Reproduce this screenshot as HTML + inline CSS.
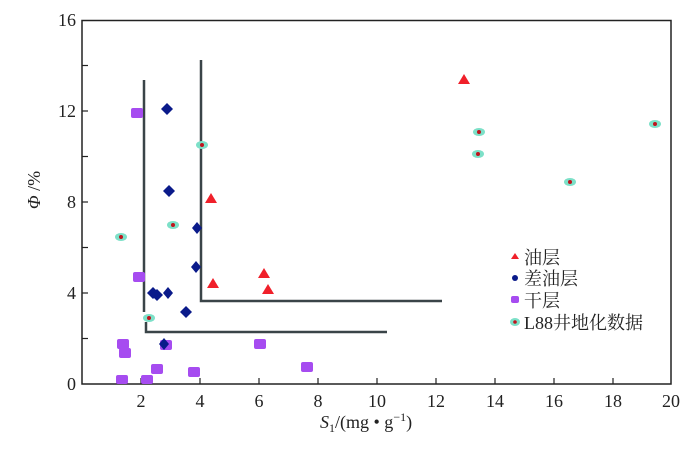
<!DOCTYPE html>
<html><head><meta charset="utf-8"><style>
body{margin:0;background:#fff}
text{font-family:"Liberation Serif","Noto Serif CJK SC",serif;fill:#222}
</style></head><body>
<svg width="700" height="452" viewBox="0 0 700 452" xmlns="http://www.w3.org/2000/svg">
<rect x="82" y="20.5" width="589" height="363.5" fill="none" stroke="#222" stroke-width="1.5"/>
<g stroke="#222" stroke-width="1.2">
<line x1="141" y1="384" x2="141" y2="378"/><line x1="200" y1="384" x2="200" y2="378"/>
<line x1="259" y1="384" x2="259" y2="378"/><line x1="318" y1="384" x2="318" y2="378"/>
<line x1="377" y1="384" x2="377" y2="378"/><line x1="436" y1="384" x2="436" y2="378"/>
<line x1="495" y1="384" x2="495" y2="378"/><line x1="554" y1="384" x2="554" y2="378"/>
<line x1="613" y1="384" x2="613" y2="378"/>
<line x1="82" y1="338.5" x2="88" y2="338.5"/><line x1="82" y1="293" x2="88" y2="293"/>
<line x1="82" y1="247.5" x2="88" y2="247.5"/><line x1="82" y1="202" x2="88" y2="202"/>
<line x1="82" y1="156.5" x2="88" y2="156.5"/><line x1="82" y1="111" x2="88" y2="111"/>
<line x1="82" y1="65.5" x2="88" y2="65.5"/>
</g>
<g font-size="18" text-anchor="middle">
<text x="141" y="407">2</text><text x="200" y="407">4</text><text x="259" y="407">6</text>
<text x="318" y="407">8</text><text x="377" y="407">10</text><text x="436" y="407">12</text>
<text x="495" y="407">14</text><text x="554" y="407">16</text><text x="613" y="407">18</text>
<text x="671" y="407">20</text>
</g>
<g font-size="18" text-anchor="end">
<text x="76" y="390">0</text><text x="76" y="299">4</text><text x="76" y="208">8</text>
<text x="76" y="117">12</text><text x="76" y="26">16</text>
</g>
<text transform="translate(40,190) rotate(-90)" font-size="18" text-anchor="middle"><tspan font-style="italic">Φ</tspan> /%</text>
<text x="320" y="428" font-size="18"><tspan font-style="italic">S</tspan><tspan font-size="12" dy="4">1</tspan><tspan dy="-4">/(mg • g</tspan><tspan font-size="12" dy="-7">−1</tspan><tspan dy="7">)</tspan></text>
<g stroke="#3a4448" stroke-width="2.5" fill="none">
<polyline points="144,80 144,312"/>
<polyline points="146,322 146,332 387,332"/>
<polyline points="201,60 201,301 442,301"/>
</g>
<g fill="#a64cf0">
<rect x="131" y="108" width="12" height="10" rx="2"/><rect x="133" y="272" width="12" height="10" rx="2"/>
<rect x="117" y="339" width="12" height="10" rx="2"/><rect x="119" y="348" width="12" height="10" rx="2"/>
<rect x="160" y="340" width="12" height="10" rx="2"/><rect x="151" y="364" width="12" height="10" rx="2"/>
<rect x="116" y="375" width="12" height="9" rx="2"/><rect x="141" y="375" width="12" height="9" rx="2"/>
<rect x="188" y="367" width="12" height="10" rx="2"/><rect x="254" y="339" width="12" height="10" rx="2"/>
<rect x="301" y="362" width="12" height="10" rx="2"/>
</g>
<g fill="#0a1a8a">
<path d="M167,103l6,6l-6,6l-6,-6z"/><path d="M169,185l6,6l-6,6l-6,-6z"/>
<path d="M197,222l5,6l-5,6l-5,-6z"/><path d="M196,261l5,6l-5,6l-5,-6z"/>
<path d="M153,287l6,6l-6,6l-6,-6z"/><path d="M157,289l6,6l-6,6l-6,-6z"/>
<path d="M168,287l5,6l-5,6l-5,-6z"/><path d="M186,306l6,6l-6,6l-6,-6z"/>
<path d="M164,338l5,6l-5,6l-5,-6z"/>
</g>
<g fill="#f0202a">
<path d="M464,74l6,10h-12z"/><path d="M211,193l6,10h-12z"/><path d="M213,278l6,10h-12z"/>
<path d="M264,268l6,10h-12z"/><path d="M268,284l6,10h-12z"/>
</g>
<g fill="#7de0c8">
<ellipse cx="121" cy="237" rx="6" ry="4"/><ellipse cx="173" cy="225" rx="6" ry="4"/>
<ellipse cx="202" cy="145" rx="6" ry="4"/><ellipse cx="149" cy="318" rx="6" ry="4"/>
<ellipse cx="479" cy="132" rx="6" ry="4"/><ellipse cx="478" cy="154" rx="6" ry="4"/>
<ellipse cx="570" cy="182" rx="6" ry="4"/><ellipse cx="655" cy="124" rx="6" ry="4"/>
<ellipse cx="515" cy="322" rx="5" ry="4"/>
</g>
<g fill="#c0141e">
<circle cx="121" cy="237" r="2"/><circle cx="173" cy="225" r="2"/><circle cx="202" cy="145" r="2"/>
<circle cx="149" cy="318" r="2"/><circle cx="479" cy="132" r="2"/><circle cx="478" cy="154" r="2"/>
<circle cx="570" cy="182" r="2"/><circle cx="655" cy="124" r="2"/><circle cx="515" cy="322" r="1.8"/>
</g>
<path d="M515,253l4,6h-8z" fill="#f0202a"/>
<circle cx="515" cy="278" r="3" fill="#0a1a8a"/>
<rect x="511" y="296" width="8" height="7" rx="2" fill="#a64cf0"/>
<g font-size="18">
<text x="524" y="264">油层</text><text x="524" y="285">差油层</text>
<text x="524" y="307">干层</text><text x="524" y="329">L88井地化数据</text>
</g>
</svg>
</body></html>
